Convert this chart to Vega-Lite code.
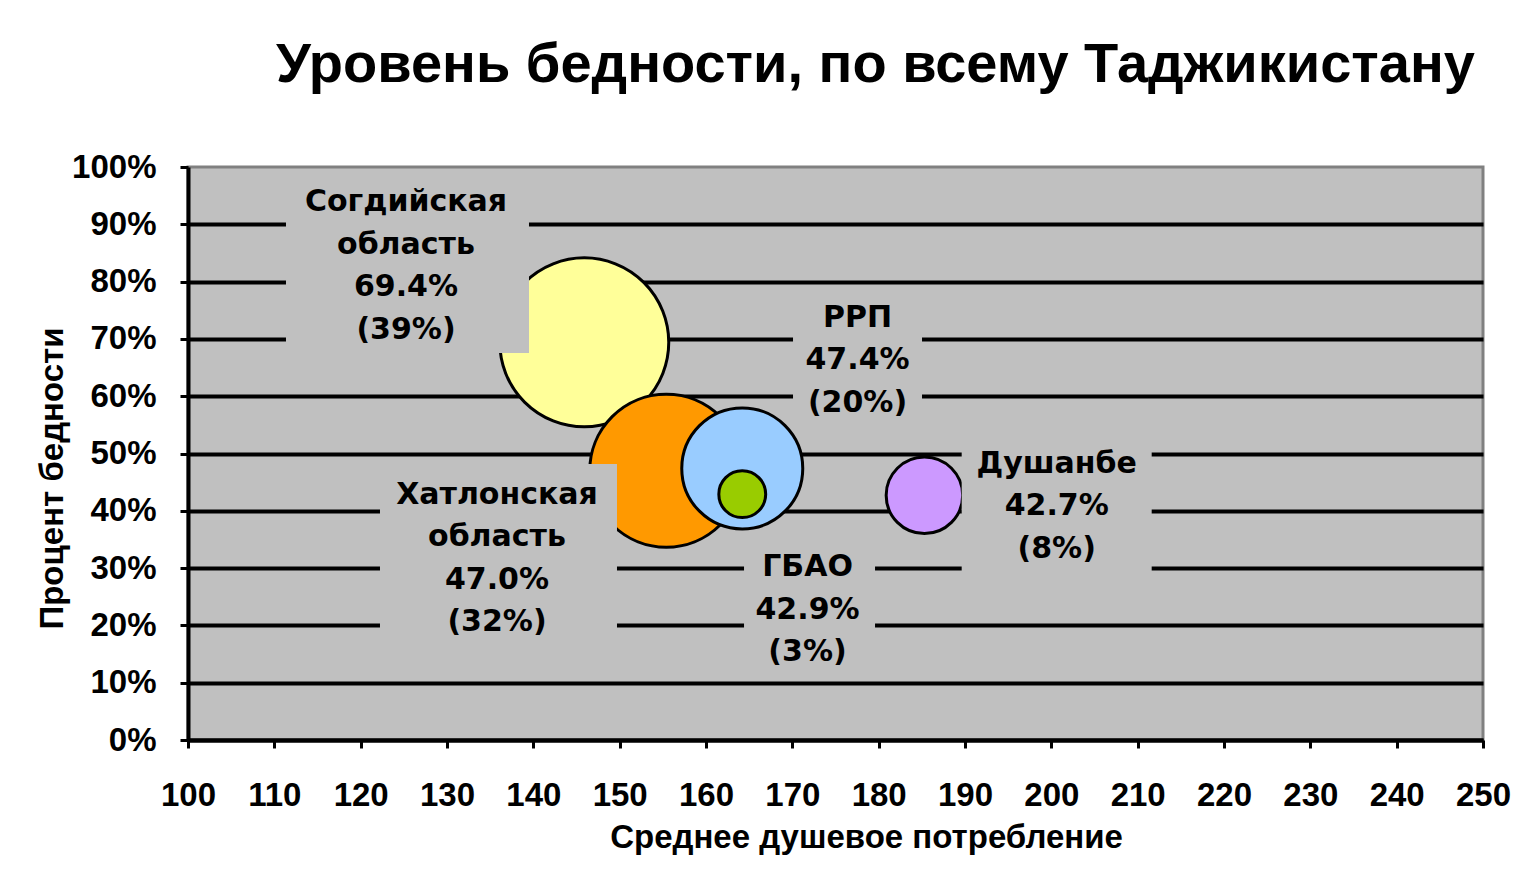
{
  "$schema": "https://vega.github.io/schema/vega-lite/v6.json",
  "width": 1295,
  "height": 573,
  "autosize": {"type": "none"},
  "padding": {"left": 188, "top": 167, "right": 40, "bottom": 143},
  "background": "white",
  "config": {
    "view": {"fill": "#C0C0C0", "stroke": "#808080", "strokeWidth": 3},
    "font": "Liberation Sans"
  },
  "title": {
    "text": "Уровень бедности, по всему Таджикистану",
    "font": "Liberation Sans",
    "fontSize": 56,
    "fontWeight": "bold",
    "color": "black",
    "anchor": "middle",
    "frame": "group",
    "dx": 40,
    "offset": 57
  },
  "data": {
    "values": [
      {"region": "Согдийская область", "consumption": 145.9, "poverty": 0.694, "share": 39, "label": "Согдийская\nобласть\n69.4%\n(39%)", "labelX": 125.25, "labelY": 0.9389},
      {"region": "Хатлонская область", "consumption": 155.4, "poverty": 0.470, "share": 32, "label": "Хатлонская\nобласть\n47.0%\n(32%)", "labelX": 135.79, "labelY": 0.4276},
      {"region": "РРП", "consumption": 164.2, "poverty": 0.474, "share": 20, "label": "РРП\n47.4%\n(20%)", "labelX": 177.55, "labelY": 0.7365},
      {"region": "ГБАО", "consumption": 164.2, "poverty": 0.429, "share": 3, "label": "ГБАО\n42.9%\n(3%)", "labelX": 171.76, "labelY": 0.3019},
      {"region": "Душанбе", "consumption": 185.3, "poverty": 0.427, "share": 8, "label": "Душанбе\n42.7%\n(8%)", "labelX": 200.62, "labelY": 0.4817}
    ]
  },
  "layer": [
    {
      "mark": {"type": "point", "filled": true, "opacity": 1, "stroke": "black", "strokeWidth": 3, "shape": "circle"},
      "encoding": {
        "x": {
          "field": "consumption", "type": "quantitative",
          "scale": {"domain": [100, 250], "nice": false, "zero": false},
          "axis": {
            "title": "Среднее душевое потребление",
            "values": [100, 110, 120, 130, 140, 150, 160, 170, 180, 190, 200, 210, 220, 230, 240, 250],
            "grid": false,
            "domainColor": "black", "domainWidth": 4,
            "tickColor": "black", "tickWidth": 3, "tickSize": 8,
            "labelFont": "Liberation Sans", "labelFontSize": 33, "labelFontWeight": "bold", "labelColor": "black",
            "labelPadding": 31, "labelFlush": false, "labelOverlap": false,
            "titleFont": "Liberation Sans", "titleFontSize": 33, "titleFontWeight": "bold", "titleColor": "black",
            "titleX": 678, "titleY": 107, "titleBaseline": "alphabetic", "titleAlign": "center"
          }
        },
        "y": {
          "field": "poverty", "type": "quantitative",
          "scale": {"domain": [0, 1], "nice": false},
          "axis": {
            "title": "Процент бедности",
            "values": [0, 0.1, 0.2, 0.3, 0.4, 0.5, 0.6, 0.7, 0.8, 0.9, 1],
            "format": ".0%",
            "grid": true, "gridColor": "black", "gridWidth": 4,
            "gridOpacity": {"condition": {"test": "datum.value > 0.95", "value": 0}, "value": 1},
            "domainColor": "black", "domainWidth": 4,
            "tickColor": "black", "tickWidth": 3, "tickSize": 8,
            "labelFont": "Liberation Sans", "labelFontSize": 33, "labelFontWeight": "bold", "labelColor": "black",
            "labelPadding": 24, "labelOverlap": false,
            "titleFont": "Liberation Sans", "titleFontSize": 33, "titleFontWeight": "bold", "titleColor": "black",
            "titleAngle": -90, "titleX": -126, "titleY": 311, "titleBaseline": "alphabetic", "titleAlign": "center"
          }
        },
        "size": {
          "field": "share", "type": "quantitative",
          "scale": {"domain": [0, 39], "range": [0, 28548]},
          "legend": null
        },
        "color": {
          "field": "region", "type": "nominal",
          "scale": {
            "domain": ["Согдийская область", "Хатлонская область", "РРП", "ГБАО", "Душанбе"],
            "range": ["#FFFF99", "#FF9900", "#99CCFF", "#99CC00", "#CC99FF"]
          },
          "legend": null
        }
      }
    },
    {
      "mark": {"type": "point", "filled": true, "opacity": 1, "color": "#C0C0C0", "strokeWidth": 0, "size": 40000},
      "encoding": {
        "x": {"field": "labelX", "type": "quantitative"},
        "y": {"field": "labelY", "type": "quantitative"},
        "shape": {
          "field": "region", "type": "nominal",
          "scale": {
            "domain": ["Согдийская область", "Хатлонская область", "РРП", "ГБАО", "Душанбе"],
            "range": [
              "M-1.2,-0.22H1.23V1.51H-1.2Z",
              "M-1.17,-0.31H1.2V1.55H-1.17Z",
              "M-0.645,-0.25H0.645V1.07H-0.645Z",
              "M-0.635,-0.27H0.675V1.08H-0.635Z",
              "M-0.95,-0.29H0.95V1.16H-0.95Z"
            ]
          },
          "legend": null
        }
      }
    },
    {
      "mark": {"type": "text", "lineBreak": "\n", "font": "DejaVu Sans", "fontWeight": "bold", "fontSize": 30, "lineHeight": 42.5, "align": "center", "baseline": "middle", "color": "black"},
      "encoding": {
        "x": {"field": "labelX", "type": "quantitative"},
        "y": {"field": "labelY", "type": "quantitative"},
        "text": {"field": "label", "type": "nominal"}
      }
    }
  ]
}
